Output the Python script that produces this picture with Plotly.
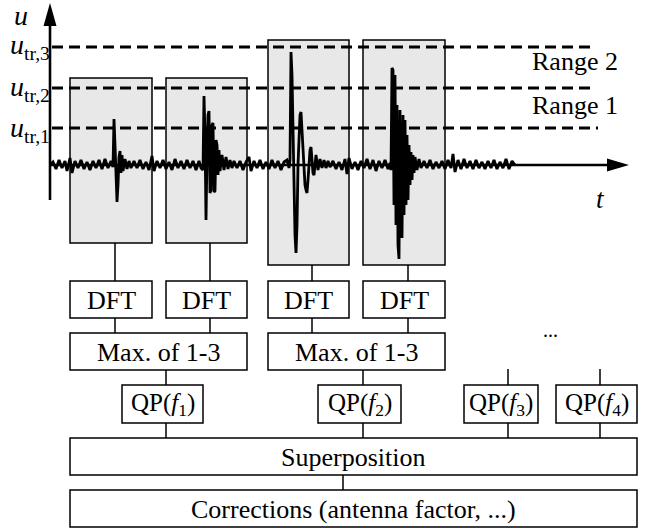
import plotly.graph_objects as go

# ---------------- data ----------------
# measured signal u(t): sample times and amplitudes (arbitrary units, baseline 0)
signal_t = [50, 53, 56, 59, 62, 65, 67, 70, 72, 75, 78, 81, 84, 87, 90, 93, 96, 99, 102, 105, 108, 111,
            113, 114, 115, 116, 117, 118, 119, 120, 121, 122, 123, 125, 127, 129, 131,
            134, 137, 140, 143, 146, 149, 152, 154, 157, 160, 163, 166, 169, 172, 175, 178, 181, 184, 187, 190, 193, 196, 199, 201,
            203, 204, 205, 206, 207, 208, 209, 210, 211, 212, 213, 214, 215, 216, 217, 218, 219, 220, 222, 224, 226, 228, 230, 232, 234,
            237, 240, 243, 246, 249, 251, 254, 257, 260, 263, 266, 269, 272, 275, 278, 281, 284, 287, 289,
            290, 291, 292, 293, 294, 295, 296, 297, 298, 299, 300, 301, 302, 303, 304, 305, 306, 307, 308, 309, 310, 311, 312, 313, 314, 315, 316, 318, 320, 322, 324, 326, 328, 330,
            333, 336, 339, 342, 345, 347, 349, 352, 355, 358, 361, 364, 367, 370, 373, 376, 379, 382, 385, 388, 390,
            391, 392, 393, 394, 395, 396, 397, 398, 399, 400, 401, 402, 403, 404, 405, 406, 407, 408, 409, 410, 411, 412, 413, 414, 415, 417, 419, 421,
            424, 427, 430, 433, 436, 439, 442, 445, 448, 451, 453, 455, 458, 461, 464, 467, 470, 473, 476, 479, 482, 485, 488, 491, 494, 497, 500, 503, 506, 509, 512, 515]
signal_u = [0, 3, -4, 5, -3, 4, -6, 7, -8, 4, -3, 5, -4, 3, -5, 4, -3, 5, -4, 6, -3, 4,
            -2, 46, 20, -10, -37, -20, 8, 14, -8, 10, -6, 6, -4, 4, -3,
            4, -3, 5, -4, 3, -5, 9, -6, 4, -3, 5, -4, 3, -5, 6, -3, 4, -4, 5, -3, 4, -5, 4, -3,
            -5, 69, 30, -55, 10, 50, 54, -28, -25, 40, 42, -27, -26, 25, 20, -10, 15, -6, 10, -5, 8, -4, 5, -3, 4,
            -3, 4, -5, 3, 8, -6, 4, -3, 5, -4, 3, -4, 5, -3, 4, -5, 3, 5, -3,
            5, 113, 90, 20, -40, -70, -88, -60, 0, 30, 50, 53, 35, 10, -10, -20, -25, -28, -15, 5, 15, 18, 5, -8, -10, 4, 10, -5, 6, -3, 5, -3, 4, -2,
            4, -4, 3, -5, 6, -9, 7, -4, 3, -5, 4, -3, 6, -4, 5, -6, 4, -3, 5, -4, 2,
            -5, 97, 95, -40, 90, -60, 60, -80, -94, 55, -60, -73, 50, -50, 45, -40, 30, -35, 20, -20, 13, -15, 10, -8, 8, -5, 6, -3,
            4, -3, 5, -4, 3, -3, 4, -4, 5, -3, 11, -7, 5, -4, 6, -3, 4, -4, 5, -3, 3, -4, 4, -3, 5, -4, 3, -3, 6, -4, 4, 0]

# trigger thresholds (same units as the signal)
threshold_labels = ["tr,1", "tr,2", "tr,3"]
threshold_levels = [37, 77, 118]
range_labels = ["Range 1", "Range 2"]

dft_labels = ["DFT", "DFT", "DFT", "DFT"]
max_labels = ["Max. of 1-3", "Max. of 1-3"]
qp_labels = ["QP(<i>f</i><sub>1</sub>)", "QP(<i>f</i><sub>2</sub>)",
             "QP(<i>f</i><sub>3</sub>)", "QP(<i>f</i><sub>4</sub>)"]
sum_label = "Superposition"
corr_label = "Corrections (antenna factor, ...)"
ellipsis_label = "..."

# ---------------- layout geometry (pixel-like diagram coordinates) ----------------
W, H = 650, 528
BASE = 165          # pixel row of u = 0
FONT = "Liberation Serif"
FS = 26
LW = 1.5

fig = go.Figure()

shapes = []
annotations = []

def rect(x0, y0, x1, y1, fill="white", lw=LW):
    shapes.append(dict(type="rect", xref="x", yref="y", x0=x0, y0=y0, x1=x1, y1=y1,
                       line=dict(color="black", width=lw), fillcolor=fill, layer="below"))

def line(x0, y0, x1, y1, lw=LW, dash="solid", yref="y"):
    shapes.append(dict(type="line", xref="x", yref=yref, x0=x0, y0=y0, x1=x1, y1=y1,
                       line=dict(color="black", width=lw, dash=dash), layer="below"))

def text(x, y, s, size=FS, xanchor="center", italic=False):
    if italic:
        s = "<i>" + s + "</i>"
    annotations.append(dict(x=x, y=y, xref="x", yref="y", text=s, showarrow=False,
                            xanchor=xanchor, yanchor="middle",
                            font=dict(family=FONT, size=size, color="black")))

# gray time windows
windows = [(70, 78, 152, 243), (166, 78, 247, 243), (268, 40, 349, 265), (363, 40, 445, 265)]
for (x0, y0, x1, y1) in windows:
    rect(x0, y0, x1, y1, fill="#e8e8e8")

# threshold dashed lines (in signal units through y2)
threshold_ends = [598, 593, 590]
for lvl, xe in zip(threshold_levels, threshold_ends):
    line(52, lvl, xe, lvl, lw=2.8, dash="11px,6px", yref="y2")

# axes
line(50, 200, 50, 22, lw=2.6)
shapes.append(dict(type="path", xref="x", yref="y", path="M 50 3 L 43.5 26 L 56.5 26 Z",
                   fillcolor="black", line=dict(color="black", width=0), layer="below"))
line(50, BASE, 612, BASE, lw=2.6)
shapes.append(dict(type="path", xref="x", yref="y", path="M 629 165 L 607 158.5 L 607 171.5 Z",
                   fillcolor="black", line=dict(color="black", width=0), layer="below"))

# axis labels
text(21, 15, "u", size=28, italic=True)
threshold_label_y = [129, 88, 46]
for lab, ly in zip(threshold_labels, threshold_label_y):
    text(52, ly, "<i>u</i><sub>" + lab + "</sub>", size=28, xanchor="right")
text(600, 199, "t", size=27, italic=True)
range_y = [105, 61]
for lab, ry in zip(range_labels, range_y):
    text(575, ry, lab, size=26)

# stems from windows to DFT
stem_x = [115, 210, 312, 408]
for (x0, y0, x1, y1), sx in zip(windows, stem_x):
    line(sx, y1, sx, 281)
    line(sx, 318, sx, 333)

# DFT boxes
for (x0, y0, x1, y1), lab in zip(windows, dft_labels):
    rect(x0, 281, x1, 318)
    text((x0 + x1) / 2, 300, lab)

# Max boxes
max_boxes = [(70, 247), (268, 445)]
for (x0, x1), lab in zip(max_boxes, max_labels):
    rect(x0, 333, x1, 370)
    text((x0 + x1) / 2, 352, lab)

# QP boxes
qp_boxes = [(122, 203), (318, 401), (464, 538), (556, 637)]
qp_stem_x = [166, 363, 508, 600]
qp_stem_top = [370, 370, 369, 369]
for (x0, x1), lab, sx, st in zip(qp_boxes, qp_labels, qp_stem_x, qp_stem_top):
    line(sx, st, sx, 385)
    line(sx, 423, sx, 438)
    rect(x0, 385, x1, 423)
    text((x0 + x1) / 2, 404, lab, size=25)

text(550, 330, ellipsis_label, size=20)

# superposition & corrections
rect(70, 438, 637, 475)
text(353, 457, sum_label)
line(343, 475, 343, 490)
rect(70, 490, 637, 527)
text(353, 509, corr_label)

# signal trace
fig.add_trace(go.Scatter(x=signal_t, y=signal_u, mode="lines", yaxis="y2",
                         line=dict(color="black", width=2.8), hoverinfo="skip",
                         showlegend=False))

fig.update_layout(
    width=W, height=H,
    margin=dict(l=0, r=0, t=0, b=0),
    paper_bgcolor="white", plot_bgcolor="white",
    xaxis=dict(range=[0, W], visible=False, fixedrange=True),
    yaxis=dict(range=[H, 0], visible=False, fixedrange=True),
    yaxis2=dict(range=[BASE - H, BASE], visible=False, overlaying="y", fixedrange=True),
    shapes=shapes, annotations=annotations, showlegend=False,
)

fig.write_html("out.html")
